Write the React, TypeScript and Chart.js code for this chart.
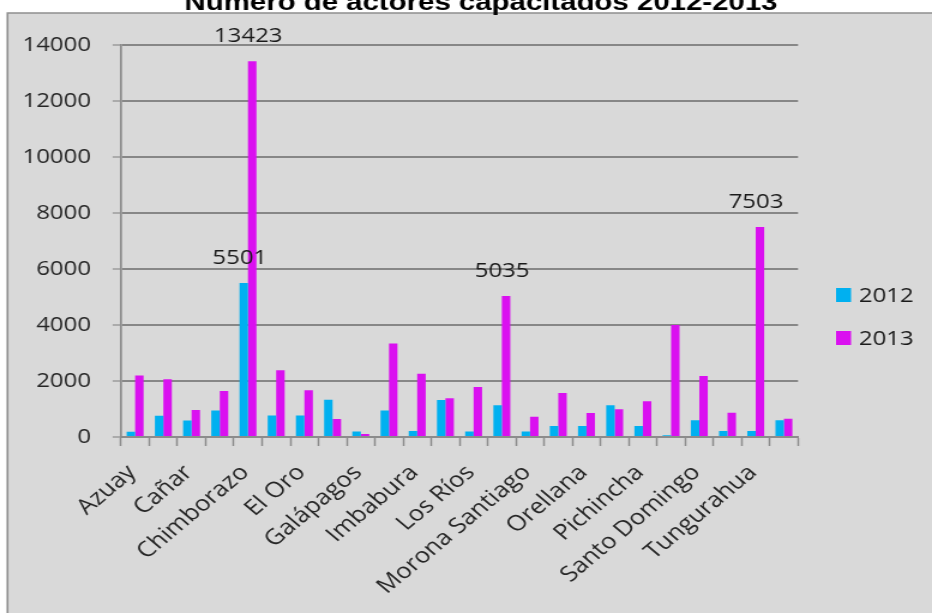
import React, { useEffect, useRef } from 'react';
import { Chart, registerables } from 'chart.js';

Chart.register(...registerables);

const titleText = 'Número de actores capacitados 2012-2013';

const categories = [
  'Azuay', 'Bolívar', 'Cañar', 'Carchi', 'Chimborazo', 'Cotopaxi', 'El Oro', 'Esmeraldas',
  'Galápagos', 'Guayas', 'Imbabura', 'Loja', 'Los Ríos', 'Manabí', 'Morona Santiago', 'Napo',
  'Orellana', 'Pastaza', 'Pichincha', 'Santa Elena', 'Santo Domingo', 'Sucumbíos', 'Tungurahua',
  'Zamora Chinchipe',
];

const seriesNames = ['2012', '2013'];

const values2012 = [
  190, 760, 590, 950, 5501, 770, 770, 1330, 200, 950, 210, 1320,
  200, 1130, 200, 390, 390, 1130, 390, 60, 600, 210, 210, 600,
];

const values2013 = [
  2200, 2060, 960, 1640, 13423, 2380, 1670, 640, 110, 3340, 2260, 1380,
  1790, 5035, 720, 1570, 860, 990, 1280, 4000, 2180, 870, 7503, 650,
];

const yMin = 0;
const yMax = 14000;
const yStep = 2000;

// [series index, category index] of the values that carry a data label
const labeledPoints: [number, number][] = [[0, 4], [1, 4], [1, 13], [1, 22]];

const colors = ['#00B0F0', '#DA10F0'];

const CANVAS_W = 777;
const CANVAS_H = 613;
const SCREEN_W = 932;
const FONT = "'Open Sans', 'DejaVu Sans', sans-serif";

const backgroundPlugin = {
  id: 'bgBox',
  beforeDraw(chart: any) {
    const { ctx, width, height } = chart;
    ctx.save();
    ctx.fillStyle = '#ffffff';
    ctx.fillRect(0, 0, width, height);
    ctx.fillStyle = '#d9d9d9';
    ctx.fillRect(6.25, 13, width, height);
    ctx.strokeStyle = '#8f8f8f';
    ctx.lineWidth = 1.6;
    ctx.beginPath();
    ctx.moveTo(6.25, height + 2);
    ctx.lineTo(6.25, 13);
    ctx.lineTo(width + 2, 13);
    ctx.stroke();
    ctx.restore();
  },
  afterDraw(chart: any) {
    const { ctx } = chart;
    ctx.save();
    // title
    ctx.fillStyle = '#000000';
    ctx.font = "bold 24.5px 'Liberation Sans', Arial, sans-serif";
    ctx.textAlign = 'center';
    ctx.textBaseline = 'alphabetic';
    ctx.fillText(titleText, 401, 10);
    // legend
    ctx.font = `20px ${FONT}`;
    ctx.textAlign = 'left';
    ctx.textBaseline = 'middle';
    chart.data.datasets.forEach((ds: any, i: number) => {
      const y = 295 + i * 43;
      ctx.fillStyle = ds.backgroundColor;
      ctx.fillRect(697, y - 7, 12.5, 14);
      ctx.fillStyle = '#1a1a1a';
      ctx.fillText(ds.label, 716, y + 1);
    });
    ctx.restore();
  },
};

const dataLabelPlugin = {
  id: 'pointLabels',
  afterDatasetsDraw(chart: any) {
    const { ctx } = chart;
    ctx.save();
    ctx.font = `20px ${FONT}`;
    ctx.fillStyle = '#1a1a1a';
    ctx.textAlign = 'center';
    ctx.textBaseline = 'middle';
    labeledPoints.forEach(([di, idx]) => {
      const el = chart.getDatasetMeta(di).data[idx];
      if (!el) return;
      const v = chart.data.datasets[di].data[idx];
      ctx.fillText(String(v), el.x - 3.3, el.y - 25);
    });
    ctx.restore();
  },
};

export default function App() {
  const ref = useRef<HTMLCanvasElement | null>(null);

  useEffect(() => {
    if (!ref.current) return;
    const chart = new Chart(ref.current, {
      type: 'bar',
      data: {
        labels: categories,
        datasets: [
          {
            label: seriesNames[0],
            data: values2012,
            backgroundColor: colors[0],
            borderWidth: 0,
            categoryPercentage: 0.6,
            barPercentage: 1.0,
          },
          {
            label: seriesNames[1],
            data: values2013,
            backgroundColor: colors[1],
            borderWidth: 0,
            categoryPercentage: 0.6,
            barPercentage: 1.0,
          },
        ],
      },
      options: {
        responsive: false,
        animation: false,
        devicePixelRatio: 1,
        layout: { padding: { left: 0, top: 45, right: 111.7, bottom: 0 } },
        plugins: {
          legend: { display: false },
          title: { display: false },
          tooltip: { enabled: false },
        },
        scales: {
          x: {
            grid: {
              display: true,
              drawOnChartArea: false,
              drawTicks: true,
              tickLength: 9,
              color: '#8c8c8c',
              tickColor: '#8c8c8c',
              tickWidth: 1.5,
              offset: true,
            },
            border: { display: true, color: '#8c8c8c', width: 2 },
            ticks: {
              autoSkip: false,
              minRotation: 45,
              maxRotation: 45,
              padding: 14,
              labelOffset: -2.5,
              color: '#262626',
              font: { family: FONT, size: 21.5 },
              callback: (_v: any, i: number) => (i % 2 === 0 ? categories[i] : ''),
            },
            afterFit: (s: any) => {
              s.height = 176;
            },
          },
          y: {
            min: yMin,
            max: yMax,
            ticks: {
              stepSize: yStep,
              padding: 18,
              color: '#262626',
              font: { family: FONT, size: 20 },
              callback: (v: any) => String(v),
            },
            grid: {
              color: '#878787',
              lineWidth: 2,
              tickLength: 7,
              tickColor: '#8c8c8c',
              tickWidth: 1.2,
            },
            border: { display: true, color: '#8c8c8c', width: 1.7 },
            afterFit: (s: any) => {
              s.width = 100.9;
            },
          },
        },
      } as any,
      plugins: [backgroundPlugin, dataLabelPlugin],
    });
    return () => chart.destroy();
  }, []);

  return (
    <div
      style={{
        position: 'fixed',
        left: 0,
        top: 0,
        width: SCREEN_W,
        height: CANVAS_H,
        background: '#ffffff',
        overflow: 'hidden',
      }}
    >
      <canvas
        ref={ref}
        width={CANVAS_W}
        height={CANVAS_H}
        style={{ width: `${SCREEN_W}px`, height: `${CANVAS_H}px`, display: 'block' }}
      />
    </div>
  );
}
